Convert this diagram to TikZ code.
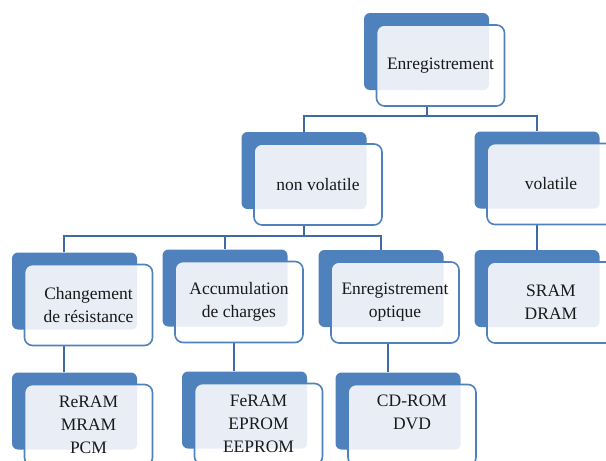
\documentclass[tikz,border=0pt]{standalone}
\usepackage{fontspec}
\setmainfont{Liberation Serif}
\usepackage{tikz}
\usetikzlibrary{calc}
\definecolor{boxblue}{HTML}{4F81BD}
\definecolor{edgeblue}{HTML}{4F81BD}
\definecolor{paleblue}{HTML}{E9EEF6}
\definecolor{linkblue}{HTML}{3F6AA3}
\tikzset{
	backbox/.style={rectangle, rounded corners=6pt, fill=boxblue, minimum width=125pt, minimum height=77pt, inner sep=0pt},
	frontbox/.style={rectangle, rounded corners=8pt, fill=white, draw=edgeblue, line width=1.6pt, minimum width=128pt, minimum height=81pt, inner sep=0pt,
		path picture={\fill[paleblue, rounded corners=6pt] (#1.south west) rectangle (#1.north east);}},
	labeltext/.style={align=center, font=\fontsize{17.5}{23}\selectfont, text=black!90},
	link/.style={draw=linkblue, line width=2pt}
}
% front box and text over the back box #2-b
\newcommand{\memfront}[3][]{%
	\node[frontbox=#2-b] (#2) at ([shift={(14,14)}]#2-b.center) {};
	\node[labeltext,#1] (#2-t) at (#2) {#3};
}

\begin{document}
\begin{tikzpicture}[x=1pt,y=-1pt]
		\useasboundingbox (0,0) rectangle (606,461);
		%back boxes
		\node[backbox] (root-b) at (426.5,51.5) {};
		\node[backbox] (nv-b) at (304,170.5) {};
		\node[backbox] (vol-b) at (537,170) {};
		\node[backbox] (chg-b) at (74.5,291) {};
		\node[backbox] (acc-b) at (225,288) {};
		\node[backbox] (opt-b) at (381,288.5) {};
		\node[backbox] (sram-b) at (537,288.5) {};
		\node[backbox] (reram-b) at (74.5,411) {};
		\node[backbox] (feram-b) at (244.5,410) {};
		\node[backbox] (cd-b) at (398,411) {};
		%links
		\draw[link] (root-b.south) -- ++(0,26) -| (nv-b.north);
		\draw[link] (root-b.south) -- ++(0,26) -| (vol-b.north);
		\draw[link] (nv-b.south) -- ++(0,27) -| ([xshift=-11pt]chg-b.north);
		\draw[link] (nv-b.south) -- ++(0,27) -| (acc-b.north);
		\draw[link] (nv-b.south) -- ++(0,27) -| (opt-b.north);
		\draw[link] (vol-b.south) -- (sram-b.north);
		\draw[link] ([xshift=-11pt]chg-b.south) -- ([xshift=-11pt]reram-b.north);
		\draw[link] ([xshift=9pt]acc-b.south) -- ([xshift=9pt]acc-b.south |- feram-b.north);
		\draw[link] ([xshift=7pt]opt-b.south) -- ([xshift=7pt]opt-b.south |- cd-b.north);
		%front boxes
		\memfront{root}{Enregistrement}
		\memfront{nv}{non volatile}
		\memfront{vol}{volatile}
		\memfront{chg}{Changement\\de résistance}
		\memfront{acc}{Accumulation\\de charges}
		\memfront{opt}{Enregistrement\\optique}
		\memfront{sram}{SRAM\\DRAM}
		\memfront{reram}{ReRAM\\MRAM\\PCM}
		\memfront{feram}{FeRAM\\EPROM\\EEPROM}
		\memfront[yshift=13pt]{cd}{CD-ROM\\DVD}
	\end{tikzpicture}
\end{document}
